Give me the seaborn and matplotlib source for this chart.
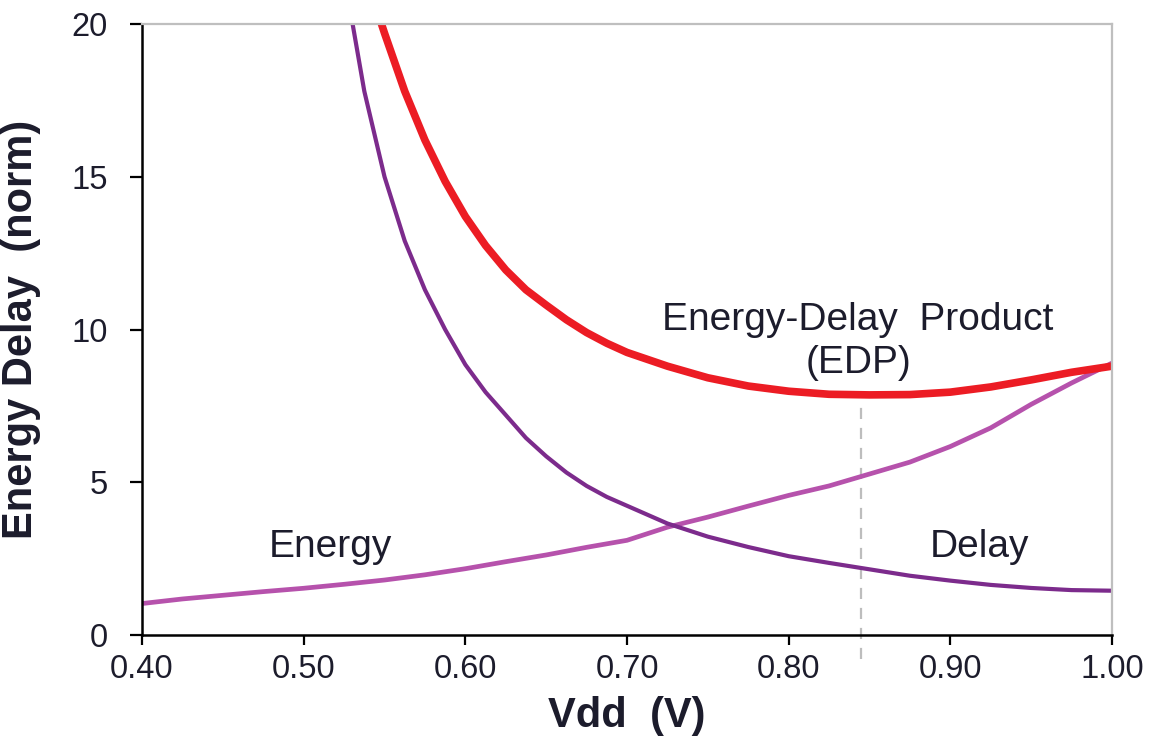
import matplotlib
matplotlib.use("Agg")
import matplotlib.pyplot as plt
import seaborn as sns
import pandas as pd

# Supply voltage sweep (V): finer steps where the curves bend sharply
vdd = [0.525, 0.5375, 0.550, 0.5625, 0.575, 0.5875, 0.600, 0.6125, 0.625,
       0.6375, 0.650, 0.6625, 0.675, 0.6875, 0.700, 0.725, 0.750, 0.775,
       0.800, 0.825, 0.850, 0.875, 0.900, 0.925, 0.950, 0.975, 1.000]

vdd_energy = [0.400, 0.425, 0.450, 0.475, 0.500, 0.525, 0.550, 0.575, 0.600,
              0.625, 0.650, 0.675, 0.700, 0.725, 0.750, 0.775, 0.800, 0.825,
              0.850, 0.875, 0.900, 0.925, 0.950, 0.975, 1.000]

# Normalised energy per operation
energy = [1.03, 1.18, 1.30, 1.42, 1.53, 1.66, 1.80, 1.97, 2.17,
          2.40, 2.62, 2.87, 3.10, 3.53, 3.86, 4.22, 4.57, 4.88,
          5.27, 5.66, 6.17, 6.78, 7.55, 8.25, 8.90]

# Normalised gate delay
delay = [21.6, 17.8, 15.0, 12.9, 11.3, 10.0, 8.85, 7.95, 7.2,
         6.45, 5.85, 5.32, 4.88, 4.52, 4.23, 3.65, 3.22, 2.88,
         2.58, 2.36, 2.15, 1.94, 1.78, 1.64, 1.54, 1.47, 1.45]

# Normalised energy-delay product
edp = [23.9, 21.7, 19.7, 17.8, 16.2, 14.85, 13.7, 12.75, 11.95,
       11.3, 10.8, 10.32, 9.9, 9.55, 9.25, 8.8, 8.42, 8.15,
       7.98, 7.88, 7.86, 7.87, 7.95, 8.12, 8.35, 8.6, 8.8]

edp_opt_vdd = 0.845

x_ticks = [0.40, 0.50, 0.60, 0.70, 0.80, 0.90, 1.00]
y_ticks = [0, 5, 10, 15, 20]

sns.set_style("white")
plt.rcParams["font.family"] = ["Liberation Sans", "DejaVu Sans"]

fig = plt.figure(figsize=(11.51, 7.53), dpi=100)
ax = fig.add_axes([0.1234, 0.1567, 0.8427, 0.8114])

df_e = pd.DataFrame({"vdd": vdd_energy, "val": energy})
df_d = pd.DataFrame({"vdd": vdd, "val": delay})
df_p = pd.DataFrame({"vdd": vdd, "val": edp})

sns.lineplot(data=df_e, x="vdd", y="val", ax=ax, color="#B652AC", lw=3.4)
sns.lineplot(data=df_d, x="vdd", y="val", ax=ax, color="#7C2B8C", lw=3.0)
sns.lineplot(data=df_p, x="vdd", y="val", ax=ax, color="#EC1C24", lw=5.5)

# optimum-EDP marker
ax.vlines(edp_opt_vdd, -0.8, 7.55, colors="#BDBDBD", linestyles=(0, (5, 4)),
          lw=1.6, clip_on=False, zorder=1)

ax.set_xlim(0.40, 1.00)
ax.set_ylim(0, 20)
ax.set_xticks(x_ticks)
ax.set_xticklabels([f"{t:.2f}" for t in x_ticks])
ax.set_yticks(y_ticks)

txt = "#1c1c2c"
ax.tick_params(axis="both", which="major", direction="out", color="black",
               width=1.6, labelsize=23.5, labelcolor=txt)
ax.tick_params(axis="y", length=8.5, pad=16)
ax.tick_params(axis="x", length=7.5, pad=6)
ax.tick_params(bottom=True, left=True)

for side in ("left", "bottom"):
    ax.spines[side].set_color("black")
    ax.spines[side].set_linewidth(1.8)
for side in ("top", "right"):
    ax.spines[side].set_color("#BFBFBF")
    ax.spines[side].set_linewidth(1.6)
    ax.spines[side].set_visible(True)

ax.set_xlabel("Vdd  (V)", fontsize=30, fontweight="bold", color=txt, labelpad=8)
ax.set_ylabel("Energy Delay  (norm)", fontsize=30, fontweight="bold", color=txt, labelpad=22)

ax.text(0.5165, 2.89, "Energy", fontsize=28, color=txt, ha="center", va="center")
ax.text(0.918, 2.89, "Delay", fontsize=28, color=txt, ha="center", va="center")
ax.text(0.843, 9.6, "Energy-Delay  Product\n(EDP)", fontsize=28, color=txt,
        ha="center", va="center", linespacing=1.25)

fig.savefig("out.png", dpi=100)
